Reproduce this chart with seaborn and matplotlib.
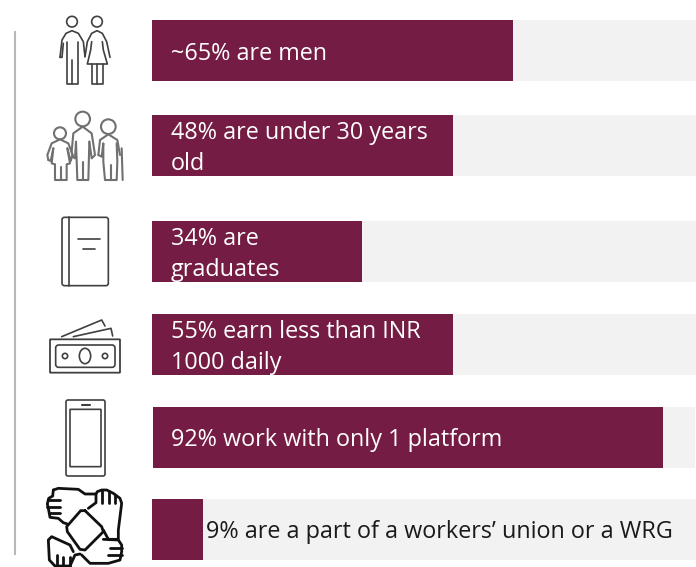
import matplotlib
matplotlib.use("Agg")
import matplotlib.pyplot as plt
from matplotlib.patches import Circle, Ellipse, FancyBboxPatch
import pandas as pd
import seaborn as sns

# text on each bar and how long the bar is drawn in the picture (% of the grey track)
labels = [
    "~65% are men",
    "48% are under 30 years\nold",
    "34% are\ngraduates",
    "55% earn less than INR\n1000 daily",
    "92% work with only 1 platform",
    "9% are a part of a workers\u2019 union or a WRG",
]
bar_lengths = [66.4, 55.3, 38.6, 55.3, 94.1, 9.4]
track_lengths = [100, 100, 100, 100, 100, 100]

W, H = 696, 567
row_tops = [20, 115, 221, 314, 407, 499]
row_lefts = [152, 152, 152, 152, 153, 152]
ROW_H = 61
BAR = "#751c44"
TRACK = "#f2f2f2"
ICON = "#404040"

sns.set_theme(style="white")
plt.rcParams["font.family"] = ["Open Sans", "DejaVu Sans"]
fig = plt.figure(figsize=(W / 100, H / 100), dpi=100)

# overlay in pixel coordinates for the rule, the texts and the pictograms
ov = fig.add_axes([0, 0, 1, 1], zorder=5)
ov.set_xlim(0, W)
ov.set_ylim(H, 0)
ov.axis("off")
ov.patch.set_alpha(0)
ov.plot([15, 15], [31, 555], color="#b8b8b8", lw=1.5, solid_capstyle="butt")

for i, label in enumerate(labels):
    left, top = row_lefts[i], row_tops[i]
    ax = fig.add_axes([left / W, 1 - (top + ROW_H) / H, (W - left) / W, ROW_H / H])
    df = pd.DataFrame({"row": [label], "track": [track_lengths[i]], "bar": [bar_lengths[i]]})
    sns.barplot(df, x="track", y="row", color=TRACK, saturation=1, width=1, linewidth=0, ax=ax)
    sns.barplot(df, x="bar", y="row", color=BAR, saturation=1, width=1, linewidth=0, ax=ax)
    ax.set_xlim(0, 100 * (W - 152) / (W - left))
    ax.set_ylim(0.5, -0.5)
    ax.axis("off")
    last = i == len(labels) - 1
    t = ov.text(206 if last else 171, top + ROW_H / 2 + 3, label,
                color="#1a1a1a" if last else "white", fontsize=16.8, va="center", ha="left",
                linespacing=1.44)
    t.set_clip_path(ax.patch)


def line(points, ox=0, oy=0, color=ICON, lw=1.0):
    xs = [p[0] / 3 + ox for p in points]
    ys = [p[1] / 3 + oy for p in points]
    ov.plot(xs, ys, color=color, lw=lw, solid_joinstyle="round", solid_capstyle="round")


def ring(x, y, r, ox=0, oy=0, color=ICON, lw=1.0):
    ov.add_patch(Circle((x / 3 + ox, y / 3 + oy), r / 3, fill=False, ec=color, lw=lw))


def box(x0, y0, x1, y1, oy=0, pad=3, color=ICON, lw=1.0):
    ov.add_patch(FancyBboxPatch((x0 / 3, y0 / 3 + oy), (x1 - x0) / 3, (y1 - y0) / 3,
                                boxstyle=f"round,pad=0,rounding_size={pad}",
                                fill=False, ec=color, lw=lw))


# couple
ring(216, 65, 16, lw=1.2)
ring(291, 65, 16, lw=1.2)
line([(180, 172), (186, 120), (198, 100), (216, 92), (235, 100), (250, 125), (255, 170)], lw=1.2)
line([(190, 130), (186, 172), (180, 172)], lw=1.2)
line([(200, 125), (200, 252), (235, 252), (235, 125)], lw=1.2)
line([(217, 180), (217, 252)], lw=1.2)
line([(255, 170), (262, 125), (275, 100), (291, 92), (307, 100), (320, 125), (330, 172)], lw=1.2)
line([(275, 125), (272, 150), (262, 192), (322, 192), (310, 150), (307, 125)], lw=1.2)
line([(275, 192), (275, 252), (308, 252), (308, 192)], lw=1.2)
line([(291, 192), (291, 252)], lw=1.2)

# family, drawn from a crop that starts at (40, 105)
GREY = "#707070"
fam = dict(ox=40, oy=105, color=GREY, lw=1.5)
ring(60, 85, 18, **fam)
ring(128, 42, 22, **fam)
ring(205, 65, 22, **fam)
line([(25, 165), (22, 150), (35, 115), (60, 103), (85, 115), (98, 150), (92, 168), (82, 130)], **fam)
line([(25, 165), (32, 168), (40, 130)], **fam)
line([(40, 130), (35, 175), (45, 178), (45, 225), (80, 225), (80, 178), (90, 175), (82, 130)], **fam)
line([(62, 185), (62, 225)], **fam)
line([(98, 155), (95, 140), (100, 85), (128, 65), (155, 85), (165, 150), (155, 160), (148, 110)], **fam)
line([(98, 155), (105, 160), (108, 110), (112, 225), (145, 225), (148, 110)], **fam)
line([(128, 170), (128, 225)], **fam)
line([(175, 150), (180, 105), (205, 88), (232, 105), (240, 150)], **fam)
line([(175, 150), (185, 155), (190, 115), (190, 170), (195, 225), (230, 225), (232, 170), (230, 115)], **fam)
line([(212, 180), (212, 225)], **fam)
line([(245, 130), (248, 225)], **fam)

# book
box(186, 652, 325, 857, pad=2.5, lw=1.2)
line([(208, 652), (208, 857)], lw=1.2)
line([(233, 718), (300, 718)], lw=1.2)
line([(248, 748), (285, 748)], lw=1.2)

# money and phone, from a crop that starts at y=290
box(150, 148, 360, 248, oy=290, pad=0.5, lw=1.3)
box(167, 165, 345, 232, oy=290, pad=3, lw=1.2)
ov.add_patch(Ellipse((255 / 3, 198 / 3 + 290), 34 / 3, 46 / 3, fill=False, ec=ICON, lw=1.2))
ring(195, 198, 8, oy=290, lw=1.2)
ring(315, 198, 8, oy=290, lw=1.2)
line([(185, 140), (305, 90), (315, 108)], oy=290, lw=1.2)
line([(220, 140), (333, 115), (338, 138)], oy=290, lw=1.2)

box(198, 330, 315, 558, oy=290, pad=2, lw=1.2)
box(210, 358, 303, 530, oy=290, pad=0.5, lw=1.2)
line([(246, 344), (269, 344)], oy=290, lw=1.5)

# hands, from a crop that starts at (40, 480)
hands = dict(ox=40, oy=480, color="#111111", lw=2.0)
for pts in [
    [(135, 92), (185, 140), (190, 155), (135, 210), (120, 208), (82, 155), (80, 140), (122, 92), (135, 92)],
    [(40, 30), (55, 25), (115, 28), (135, 42), (168, 42)],
    [(40, 30), (38, 48), (26, 55), (22, 72), (26, 90), (30, 112), (55, 115), (70, 128), (82, 132)],
    [(25, 60), (60, 60)],
    [(22, 80), (60, 80)],
    [(28, 100), (60, 100)],
    [(145, 85), (168, 68), (168, 42), (172, 35), (185, 30), (200, 30), (220, 40), (240, 55), (245, 70),
     (235, 150), (235, 178), (205, 178), (190, 150)],
    [(187, 32), (187, 68)],
    [(206, 32), (206, 68)],
    [(225, 45), (225, 68)],
    [(190, 178), (235, 180), (245, 195), (245, 215), (240, 240), (205, 250), (150, 250), (125, 225)],
    [(210, 205), (245, 205)],
    [(205, 225), (245, 225)],
    [(100, 215), (90, 195), (35, 170), (25, 180), (28, 240), (45, 258), (90, 258), (105, 225), (120, 222)],
    [(50, 225), (50, 258)],
    [(70, 230), (70, 258)],
    [(90, 230), (90, 258)],
]:
    line(pts, **hands)

fig.savefig("out.png", dpi=100)
